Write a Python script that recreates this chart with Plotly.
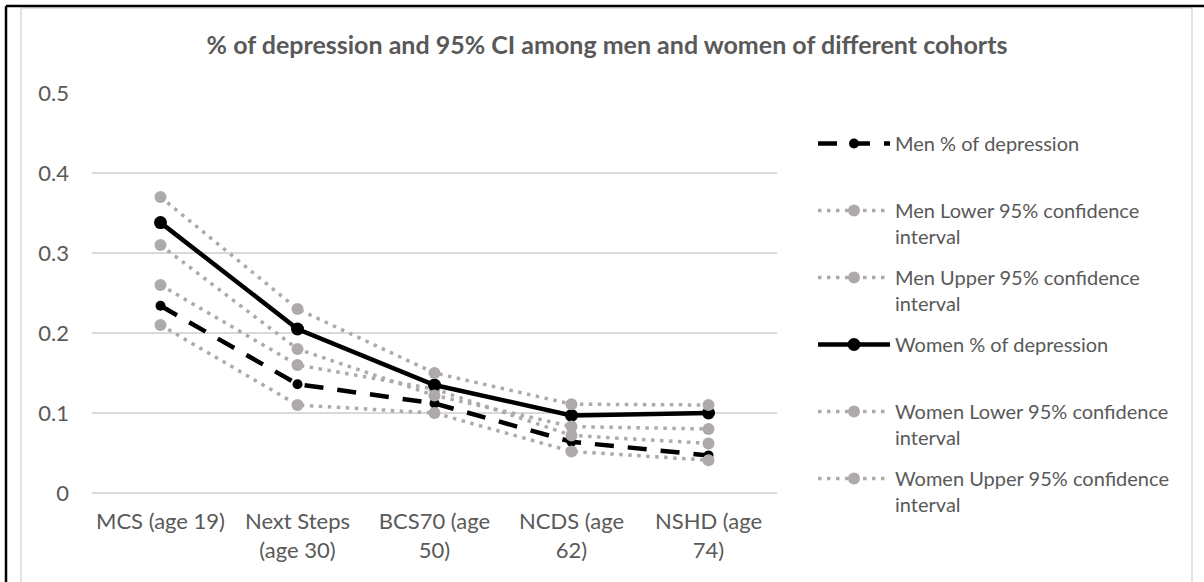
import plotly.graph_objects as go

categories = ["MCS (age 19)", "Next Steps<br>(age 30)", "BCS70 (age<br>50)", "NCDS (age<br>62)", "NSHD (age<br>74)"]
men = [0.234, 0.136, 0.112, 0.064, 0.047]
men_lower = [0.21, 0.11, 0.10, 0.052, 0.041]
men_upper = [0.26, 0.16, 0.13, 0.072, 0.062]
women = [0.338, 0.205, 0.135, 0.097, 0.100]
women_lower = [0.31, 0.18, 0.122, 0.083, 0.080]
women_upper = [0.37, 0.23, 0.15, 0.111, 0.110]

series_names = [
    "Men % of depression",
    "Men Lower 95% confidence<br>interval",
    "Men Upper 95% confidence<br>interval",
    "Women % of depression",
    "Women Lower 95% confidence<br>interval",
    "Women Upper 95% confidence<br>interval",
]

W, H = 1204, 582
L, R, T, B = 92, 777, 93, 493  # plot area in px

FONT = "Lato"
TXT = "#595959"
GRID = "#D9D9D9"
GREY = "#AEAAAA"


def px_x(p):
    return (p - L) / (R - L)


def px_y(p):
    return (B - p) / (B - T)


fig = go.Figure()

styles = [
    dict(y=men, line=dict(color="black", width=4.5, dash="19px,14px"), marker=dict(color="black", size=10)),
    dict(y=men_lower, line=dict(color=GREY, width=3.5, dash="3.5px,5.5px"), marker=dict(color=GREY, size=12)),
    dict(y=men_upper, line=dict(color=GREY, width=3.5, dash="3.5px,5.5px"), marker=dict(color=GREY, size=12)),
    dict(y=women, line=dict(color="black", width=4.5), marker=dict(color="black", size=13)),
    dict(y=women_lower, line=dict(color=GREY, width=3.5, dash="3.5px,5.5px"), marker=dict(color=GREY, size=12)),
    dict(y=women_upper, line=dict(color=GREY, width=3.5, dash="3.5px,5.5px"), marker=dict(color=GREY, size=12)),
]

for i, (name, st) in enumerate(zip(series_names, styles)):
    label = name if "<br>" in name else name + "<br>\u00a0"
    fig.add_trace(go.Scatter(
        x=categories, y=st["y"], name=label, mode="lines+markers",
        line=st["line"], marker=st["marker"], legendgroup=f"g{i}",
    ))

shapes = [
    # inner light frame
    dict(type="rect", xref="paper", yref="paper",
         x0=px_x(21), x1=px_x(1192), y0=px_y(600), y1=px_y(8),
         line=dict(color=GRID, width=1.5), layer="below"),
    # outer black frame (top and left)
    dict(type="line", xref="paper", yref="paper",
         x0=px_x(6), x1=px_x(1210), y0=px_y(6), y1=px_y(6),
         line=dict(color="black", width=2.5)),
    dict(type="line", xref="paper", yref="paper",
         x0=px_x(6), x1=px_x(6), y0=px_y(6), y1=px_y(600),
         line=dict(color="black", width=2.5)),
]

fig.update_layout(
    width=W, height=H,
    margin=dict(l=L, r=W - R, t=T, b=H - B, pad=0, autoexpand=False),
    paper_bgcolor="white", plot_bgcolor="white",
    font=dict(family=FONT, size=22, color=TXT),
    title=dict(text="<b>% of depression and 95% CI among men and women of different cohorts</b>",
               x=607 / W, xanchor="center", y=1 - 45 / H, yanchor="middle",
               xref="container", yref="container",
               font=dict(family=FONT, size=25, color=TXT)),
    showlegend=True,
    legend=dict(x=px_x(813), xanchor="left", y=px_y(124), yanchor="top",
                traceorder="grouped", tracegroupgap=12, valign="top",
                itemwidth=72, maxheight=560, font=dict(family=FONT, size=20, color=TXT),
                bgcolor="rgba(0,0,0,0)"),
    xaxis=dict(range=[-0.5, 4.5], showgrid=False, zeroline=False, showline=False,
               ticks="", ticklabelstandoff=13,
               tickfont=dict(family=FONT, size=22, color=TXT), fixedrange=True),
    yaxis=dict(range=[0, 0.5], dtick=0.1, tick0=0, showgrid=True, gridcolor=GRID, gridwidth=1.5,
               zeroline=True, zerolinecolor=GRID, zerolinewidth=1.5, showline=False,
               ticks="", ticklabelstandoff=22, tickfont=dict(family=FONT, size=22, color=TXT),
               fixedrange=True),
    shapes=shapes,
)

fig.write_html("out.html", config={"displayModeBar": False})
